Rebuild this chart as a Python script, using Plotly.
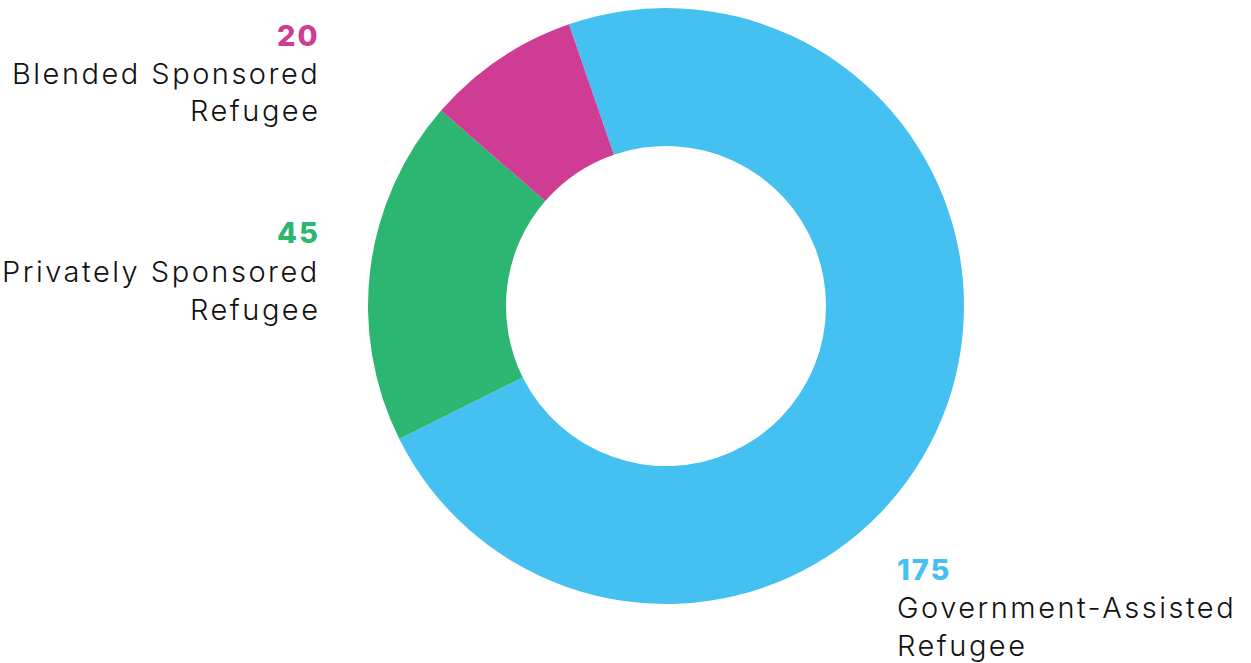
import plotly.graph_objects as go

# Refugee admissions by category
categories = ["Government-Assisted Refugee", "Privately Sponsored Refugee", "Blended Sponsored Refugee"]
label_lines = [["Government-Assisted", "Refugee"], ["Privately Sponsored", "Refugee"], ["Blended Sponsored", "Refugee"]]
values = [175, 45, 20]
colors = ["#45C1F1", "#2DB672", "#CF3C94"]

W, H = 1251, 663
cx, cy, r = 666, 306, 298

fig = go.Figure(go.Pie(
    labels=categories,
    values=values,
    marker=dict(colors=colors, line=dict(width=0)),
    hole=0.537,
    sort=False,
    direction="clockwise",
    rotation=-19,
    textinfo="none",
    hoverinfo="label+value",
    domain=dict(x=[(cx - r) / W, (cx + r) / W], y=[1 - (cy + r) / H, 1 - (cy - r) / H]),
))

FONT = "Inter"
SIZE = 29
LINE = 38
NUM_STYLE = "letter-spacing:2px"
TXT_STYLE = "letter-spacing:2.5px"

# label blocks: (anchor x pixel, first-line center y pixel, xanchor)
blocks = [(895, 569, "left"), (322, 233, "right"), (322, 35, "right")]
annotations = []
for (x, y0, anchor), val, col, lines in zip(blocks, values, colors, label_lines):
    annotations.append(dict(
        x=x / W, y=1 - y0 / H, xref="paper", yref="paper",
        text=f"<span style='{NUM_STYLE}'>{val}</span>", showarrow=False,
        xanchor=anchor, yanchor="middle",
        font=dict(family=FONT, size=SIZE, color=col, weight=800),
    ))
    for i, ln in enumerate(lines):
        annotations.append(dict(
            x=x / W, y=1 - (y0 + LINE * (i + 1)) / H, xref="paper", yref="paper",
            text=f"<span style='{TXT_STYLE}'>{ln}</span>", showarrow=False,
            xanchor=anchor, yanchor="middle",
            font=dict(family=FONT, size=SIZE, color="#111111", weight=350),
        ))

fig.update_layout(
    width=W, height=H,
    margin=dict(l=0, r=0, t=0, b=0),
    paper_bgcolor="white", plot_bgcolor="white",
    showlegend=False,
    annotations=annotations,
)

fig.write_html("out.html")
